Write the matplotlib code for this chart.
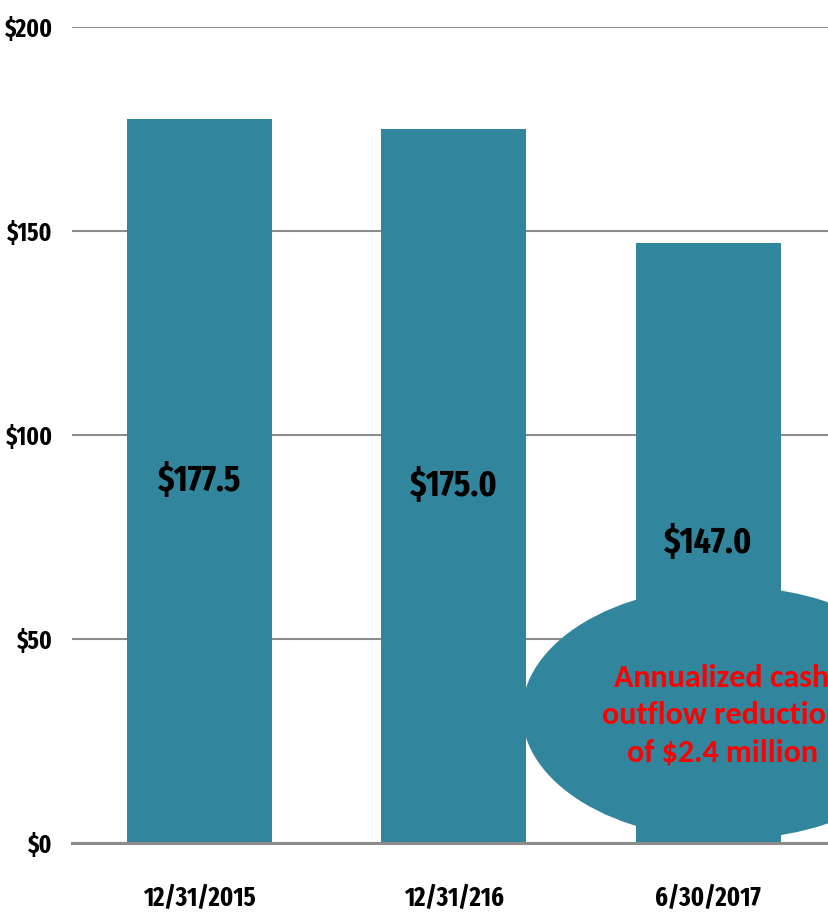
import matplotlib
matplotlib.use('Agg')
import matplotlib.pyplot as plt
from matplotlib.patches import Ellipse

# Data
dates = ['12/31/2015', '12/31/216', '6/30/2017']
amounts = [177.5, 175.0, 147.0]
y_ticks = [0, 50, 100, 150, 200]
note = 'Annualized cash\noutflow reduction\nof $2.4 million'

bar_color = '#31859C'
grid_color = '#8C8C8C'
narrow = ['Fira Sans Extra Condensed', 'DejaVu Sans']
calibri = ['Carlito', 'DejaVu Sans']

fig = plt.figure(figsize=(8.29, 9.24), dpi=100)
ax = fig.add_axes([0.0869, 0.0877, 0.921, 0.8831])

x = list(range(len(dates)))
bars = ax.bar(x, amounts, width=0.57, color=bar_color, zorder=2)

# value labels in the middle of each bar
for xi, v in zip(x, amounts):
    ax.text(xi, v / 2, f'${v:.1f}', ha='center', va='center',
            fontsize=26, fontweight='bold', family=narrow, color='black', zorder=4)

ax.set_xlim(-0.5, 2.5)
ax.set_ylim(0, 200)
ax.set_yticks(y_ticks)
ax.set_yticklabels([f'${t}' for t in y_ticks], family=narrow,
                   fontsize=18, fontweight='bold')
ax.set_xticks(x)
ax.set_xticklabels(dates, family=narrow, fontsize=19, fontweight='bold')
ax.tick_params(axis='y', length=0, pad=14)
ax.tick_params(axis='x', length=0, pad=30)

ax.yaxis.grid(True, color=grid_color, linewidth=1.5, zorder=1)
ax.set_axisbelow(True)
for s in ['top', 'left', 'right']:
    ax.spines[s].set_visible(False)
ax.spines['bottom'].set_color(grid_color)
ax.spines['bottom'].set_linewidth(2.2)
ax.spines['bottom'].set_zorder(3)

# callout ellipse, partly cut off by the right edge
ell = Ellipse((2.078, 31.9), width=1.62, height=62, facecolor=bar_color,
              edgecolor='none', zorder=3, clip_on=False)
ax.add_patch(ell)
ax.text(2.054, 31.4, note, ha='center', va='center', color='#FF0000',
        fontsize=23, fontweight='bold', family=calibri,
        linespacing=1.4, zorder=5, clip_on=False)

fig.savefig('out.png', dpi=100)
